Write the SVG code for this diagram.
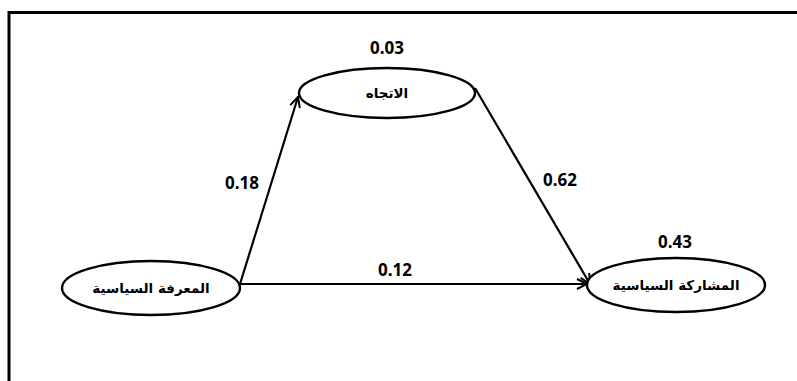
<svg xmlns="http://www.w3.org/2000/svg" width="797" height="381" viewBox="0 0 797 381">
<style>
.node{fill:#fff;stroke:#000;stroke-width:2.4}
.lbl{font-family:"DejaVu Sans","Noto Sans",sans-serif;font-weight:bold;font-size:13.5px;fill:#000}
.num{font-family:"Open Sans","Liberation Sans",sans-serif;font-weight:bold;font-size:17px;fill:#000}
.edge{stroke:#000;stroke-width:2.2;fill:none;marker-end:url(#arr)}
</style>
<defs>
<marker id="arr" viewBox="0 0 12 12" refX="11" refY="6" markerWidth="12" markerHeight="12" markerUnits="userSpaceOnUse" orient="auto">
<path d="M1,1 L11,6 L1,11" fill="none" stroke="#000" stroke-width="2"/>
</marker>
</defs>
<rect width="797" height="381" fill="#fff"/>
<g id="frame">
<path d="M9,381 V12.5 H797" fill="none" stroke="#000" stroke-width="3"/>
</g>
<g id="connectors">
<line class="edge" x1="240" y1="284" x2="298" y2="97"/>
<line class="edge" x1="240" y1="284" x2="587" y2="284"/>
<line class="edge" x1="475" y1="88" x2="590" y2="284"/>
</g>
<g id="node-attitude">
<ellipse class="node" cx="387" cy="93" rx="88" ry="25"/>
<text class="lbl" x="387" y="98" text-anchor="middle" direction="rtl">الاتجاه</text>
</g>
<g id="node-knowledge">
<ellipse class="node" cx="151" cy="288" rx="89" ry="27"/>
<text class="lbl" x="151" y="293" text-anchor="middle" direction="rtl">المعرفة السياسية</text>
</g>
<g id="node-participation">
<ellipse class="node" cx="676" cy="285" rx="89" ry="27"/>
<text class="lbl" x="676" y="290" text-anchor="middle" direction="rtl">المشاركة السياسية</text>
</g>
<g id="labels">
<text class="num" x="387" y="54" text-anchor="middle">0.03</text>
<text class="num" x="242" y="189" text-anchor="middle">0.18</text>
<text class="num" x="560" y="186" text-anchor="middle">0.62</text>
<text class="num" x="395" y="276" text-anchor="middle">0.12</text>
<text class="num" x="675" y="248" text-anchor="middle">0.43</text>
</g>
</svg>
